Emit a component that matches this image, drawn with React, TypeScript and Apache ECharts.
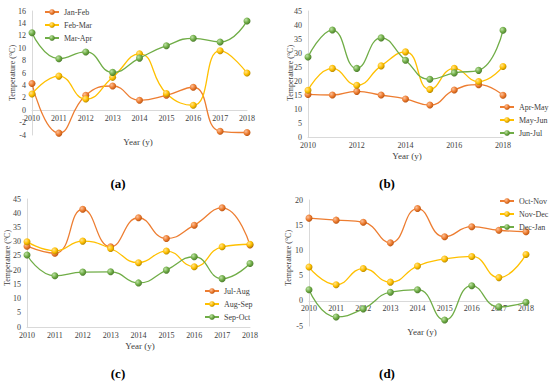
import React, { useEffect, useRef } from "react";
import * as echarts from "echarts";

const years = [2010, 2011, 2012, 2013, 2014, 2015, 2016, 2017, 2018];

// Panel (a)
const janFeb = [4.3, -3.7, 2.4, 3.9, 1.6, 2.4, 3.7, -3.4, -3.6];
const febMar = [2.6, 5.5, 1.8, 5.3, 9.1, 2.7, 0.8, 9.6, 6.0];
const marApr = [12.5, 8.3, 9.4, 6.1, 8.4, 10.4, 11.6, 11.0, 14.4];
// Panel (b)
const aprMay = [15.2, 15.0, 16.3, 15.0, 13.6, 11.4, 16.8, 18.7, 14.9];
const mayJun = [16.7, 24.5, 18.5, 25.4, 30.4, 17.0, 24.5, 19.8, 25.2];
const junJul = [28.6, 38.2, 24.5, 35.4, 27.4, 20.6, 22.9, 23.8, 38.1];
// Panel (c)
const julAug = [28.4, 25.9, 41.4, 28.2, 38.4, 31.1, 35.8, 41.9, 28.8];
const augSep = [30.0, 26.8, 30.2, 27.6, 22.6, 26.7, 21.2, 28.2, 29.1];
const sepOct = [25.3, 18.0, 19.3, 19.4, 15.5, 20.0, 24.7, 17.0, 22.3];
// Panel (d)
const octNov = [16.4, 16.0, 15.6, 11.5, 18.3, 12.7, 14.7, 14.0, 13.7];
const novDec = [6.7, 3.2, 6.4, 3.7, 6.9, 8.3, 8.8, 4.6, 9.2];
const decJan = [2.2, -3.2, -1.6, 1.7, 2.2, -3.8, 3.0, -1.2, -0.3];

const panelSeries = [
  [["Jan-Feb", janFeb], ["Feb-Mar", febMar], ["Mar-Apr", marApr]],
  [["Apr-May", aprMay], ["May-Jun", mayJun], ["Jun-Jul", junJul]],
  [["Jul-Aug", julAug], ["Aug-Sep", augSep], ["Sep-Oct", sepOct]],
  [["Oct-Nov", octNov], ["Nov-Dec", novDec], ["Dec-Jan", decJan]],
] as [string, number[]][][];

const yRanges = [
  [-4, 16, 2],
  [0, 45, 5],
  [0, 45, 5],
  [-5, 20, 5],
];
const xIntervals = [1, 2, 1, 1];
const captions = ["(a)", "(b)", "(c)", "(d)"];
const xTitle = "Year (y)";
const yTitle = "Temperature (°C)";

const FONT = "'Liberation Serif', 'Times New Roman', serif";
const lineColors = ["#ED7D31", "#FFC000", "#70AD47"];
const ballStops = [
  ["#fbc09a", "#ED7D31", "#b8520f"],
  ["#ffe28f", "#FFC000", "#b38600"],
  ["#c0e2a8", "#70AD47", "#4a7a2c"],
];

const grids = [
  { left: 32, top: 11, width: 215, height: 124 },
  { left: 308, top: 11, width: 195, height: 126 },
  { left: 27, top: 199, width: 223, height: 128 },
  { left: 309, top: 200, width: 217, height: 126 },
];

const legends = [
  { left: 44, top: 8 },
  { left: 499, top: 103 },
  { left: 204, top: 287 },
  { left: 499, top: 197 },
];

const xTitlePos = [
  [138, 142],
  [407, 156],
  [140, 346],
  [422, 332],
];
const yTitlePos = [
  [12, 73],
  [290, 73],
  [7, 258],
  [288, 258],
];
const captionPos = [
  [118, 183],
  [387, 183],
  [118, 373],
  [387, 373],
];

export default function App() {
  const ref = useRef<HTMLDivElement>(null);
  useEffect(() => {
    if (!ref.current) return;
    const chart = echarts.init(ref.current, undefined, { renderer: "svg" });
    const axisLabel = { fontFamily: FONT, fontSize: 8, color: "#404040" };
    const series: any[] = [];
    panelSeries.forEach((group, p) => {
      group.forEach(([name, vals], i) => {
        series.push({
          name,
          type: "line",
          xAxisIndex: p,
          yAxisIndex: p,
          smooth: 0.5,
          symbol: "circle",
          symbolSize: 7,
          data: years.map((y, k) => [y, vals[k]]),
          lineStyle: { color: lineColors[i], width: 1.3 },
          itemStyle: {
            color: new echarts.graphic.RadialGradient(0.35, 0.35, 0.7, [
              { offset: 0, color: ballStops[i][0] },
              { offset: 0.55, color: ballStops[i][1] },
              { offset: 1, color: ballStops[i][2] },
            ]),
            borderWidth: 0,
          },
        });
      });
    });
    const graphics: any[] = [];
    captions.forEach((c, p) => {
      graphics.push({
        type: "text",
        x: captionPos[p][0],
        y: captionPos[p][1],
        style: {
          text: c,
          fontFamily: FONT,
          fontSize: 13,
          fontWeight: "bold",
          fill: "#000",
          align: "center",
          verticalAlign: "middle",
        },
      });
      graphics.push({
        type: "text",
        x: xTitlePos[p][0],
        y: xTitlePos[p][1],
        style: {
          text: xTitle,
          fontFamily: FONT,
          fontSize: 9,
          fill: "#404040",
          align: "center",
          verticalAlign: "middle",
        },
      });
      graphics.push({
        type: "text",
        x: yTitlePos[p][0],
        y: yTitlePos[p][1],
        rotation: Math.PI / 2,
        style: {
          text: yTitle,
          fontFamily: FONT,
          fontSize: 8,
          fill: "#404040",
          align: "center",
          verticalAlign: "middle",
        },
      });
    });
    // x axis sits at y = 0; shift it up from the grid bottom by the zero position
    const zeroOffset = (p: number) => {
      const [mn, mx] = yRanges[p];
      if (mn >= 0) return 0;
      return -(grids[p].height * (0 - mn)) / (mx - mn);
    };
    chart.setOption({
      animation: false,
      backgroundColor: "#ffffff",
      grid: grids.map((g) => ({ ...g, containLabel: false })),
      legend: legends.map((l, p) => ({
        ...l,
        orient: "vertical",
        itemWidth: 14,
        itemHeight: 7,
        itemGap: 5,
        data: panelSeries[p].map((s) => s[0]),
        textStyle: { fontFamily: FONT, fontSize: 8, color: "#404040" },
        padding: 0,
      })),
      xAxis: grids.map((_, p) => ({
        type: "value",
        gridIndex: p,
        min: 2010,
        max: 2018,
        interval: xIntervals[p],
        position: "bottom",
        offset: zeroOffset(p),
        splitLine: { show: false },
        axisTick: { show: false },
        axisLine: { show: true, onZero: false, lineStyle: { color: "#d9d9d9" } },
        axisLabel: { ...axisLabel, margin: 4, formatter: (v: number) => String(v) },
      })),
      yAxis: grids.map((_, p) => ({
        type: "value",
        gridIndex: p,
        min: yRanges[p][0],
        max: yRanges[p][1],
        interval: yRanges[p][2],
        splitLine: { show: false },
        axisTick: { show: false },
        axisLine: { show: true, lineStyle: { color: "#d9d9d9" } },
        axisLabel: { ...axisLabel, margin: 6 },
      })),
      graphic: graphics,
      series,
    });
    return () => chart.dispose();
  }, []);
  return (
    <div
      ref={ref}
      style={{ position: "absolute", left: 0, top: 0, width: 550, height: 384 }}
    />
  );
}
